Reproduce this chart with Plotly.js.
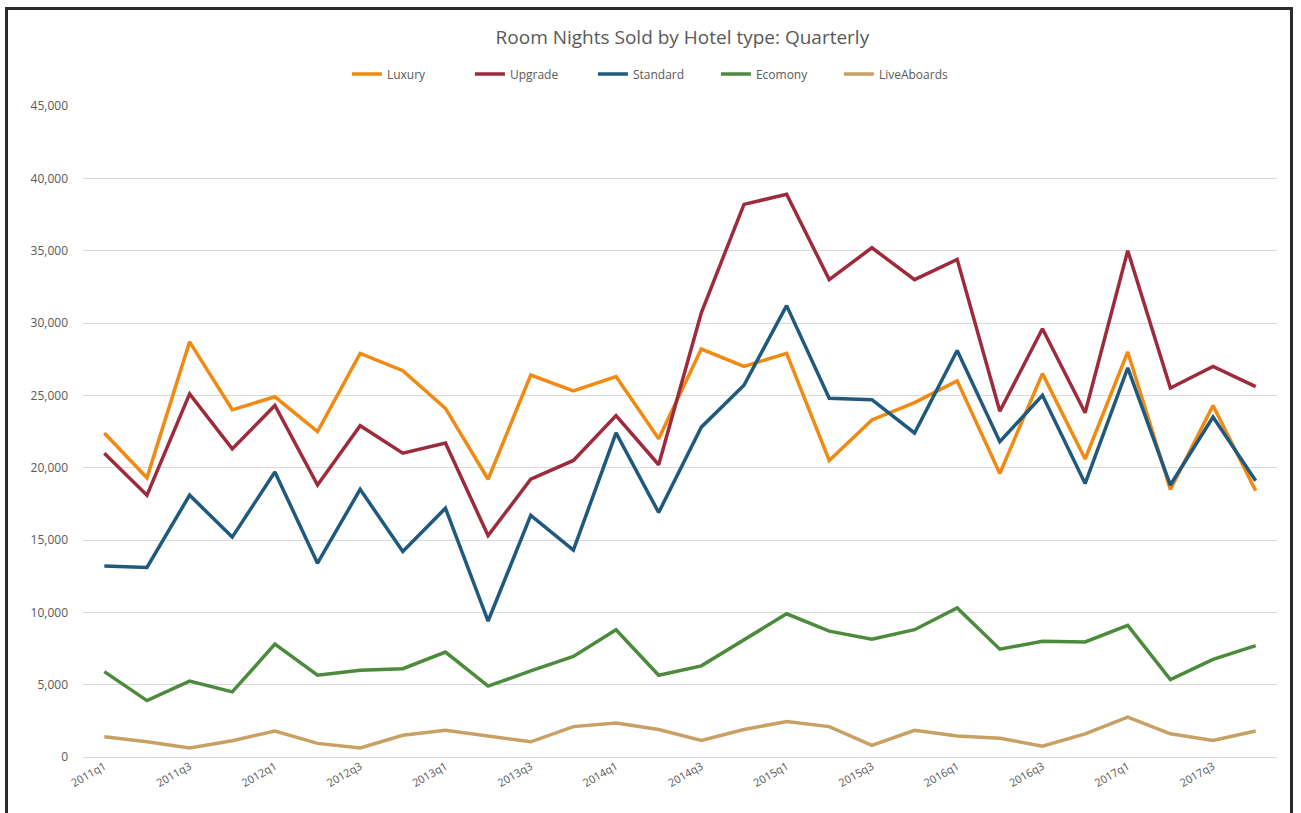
<!DOCTYPE html>
<html>
<head>
<meta charset="utf-8">
<script src="https://cdn.plot.ly/plotly-3.0.1.min.js"></script>
<style>
  html, body { margin: 0; padding: 0; background: #ffffff; overflow: hidden; }
  #chart { position: absolute; left: 0; top: 0; width: 1301px; height: 813px; }
  #frame { position: absolute; left: 5px; top: 7px; width: 1288px; height: 830px;
           border: 3px solid #2b2b2b; box-sizing: border-box; pointer-events: none; }
</style>
</head>
<body>
<div id="chart"></div>
<div id="frame"></div>
<script>
const quarters = [
  "2011q1","2011q2","2011q3","2011q4",
  "2012q1","2012q2","2012q3","2012q4",
  "2013q1","2013q2","2013q3","2013q4",
  "2014q1","2014q2","2014q3","2014q4",
  "2015q1","2015q2","2015q3","2015q4",
  "2016q1","2016q2","2016q3","2016q4",
  "2017q1","2017q2","2017q3","2017q4"
];
const tickLabels = ["2011q1","2011q3","2012q1","2012q3","2013q1","2013q3","2014q1",
                    "2014q3","2015q1","2015q3","2016q1","2016q3","2017q1","2017q3"];

const luxury = [22400,19300,28700,24000,24900,22500,27900,26700,24100,19200,26400,25300,
                26300,22000,28200,27000,27900,20500,23300,24500,26000,19600,26500,20600,
                28000,18500,24300,18400];
const upgrade = [21000,18100,25100,21300,24300,18800,22900,21000,21700,15300,19200,20500,
                 23600,20200,30700,38200,38900,33000,35200,33000,34400,23900,29600,23800,
                 35000,25500,27000,25600];
const standard = [13200,13100,18100,15200,19700,13400,18500,14200,17200,9400,16700,14300,
                  22400,16900,22800,25700,31200,24800,24700,22400,28100,21800,25000,18900,
                  26900,18800,23500,19100];
const economy = [5900,3900,5250,4500,7800,5650,6000,6100,7250,4900,5950,6950,
                 8800,5650,6300,8100,9900,8700,8150,8800,10300,7450,8000,7950,
                 9100,5350,6750,7700];
const liveAboards = [1400,1050,620,1120,1800,940,620,1500,1850,1420,1050,2100,
                     2350,1900,1150,1900,2450,2100,800,1850,1450,1300,750,1600,
                     2750,1600,1150,1800];

const seriesNames = ["Luxury","Upgrade","Standard","Ecomony","LiveAboards"];
const seriesData = [luxury, upgrade, standard, economy, liveAboards];
const seriesColors = ["#F08A12","#9E2B3C","#1F5A7E","#4C8A3C","#C9A063"];

const traces = seriesNames.map((name, i) => ({
  type: "scatter",
  mode: "lines",
  name: name,
  x: quarters,
  y: seriesData[i],
  line: { color: seriesColors[i], width: 3.5 },
  hoverinfo: "x+y+name"
}));

const font = "'Open Sans', 'Noto Sans', sans-serif";

const layout = {
  width: 1301,
  height: 813,
  paper_bgcolor: "#ffffff",
  plot_bgcolor: "#ffffff",
  margin: { l: 83, r: 24, t: 106, b: 56, pad: 0 },
  font: { family: font, color: "#595959", size: 12 },
  title: {
    text: "Room Nights Sold by Hotel type: Quarterly",
    font: { family: font, size: 19, color: "#595959" },
    x: 0.502, xref: "paper", xanchor: "center",
    y: 1 - 37 / 813, yref: "container", yanchor: "middle"
  },
  showlegend: true,
  legend: {
    orientation: "h",
    x: 0.503, xref: "container", xanchor: "center",
    y: 1 - 74 / 813, yref: "container", yanchor: "middle",
    font: { family: font, size: 12, color: "#595959" },
    itemwidth: 30,
    entrywidth: 78,
    entrywidthmode: "pixels",
    traceorder: "normal",
    bgcolor: "rgba(0,0,0,0)"
  },
  xaxis: {
    type: "category",
    categoryorder: "array",
    categoryarray: quarters,
    range: [-0.5, 27.5],
    tickmode: "array",
    tickvals: tickLabels,
    ticktext: tickLabels,
    tickangle: -30,
    tickfont: { family: font, size: 11, color: "#595959" },
    showgrid: false,
    showline: false,
    zeroline: false,
    ticks: "",
    fixedrange: true
  },
  yaxis: {
    range: [0, 45000],
    tick0: 0,
    dtick: 5000,
    tickformat: ",d",
    tickfont: { family: font, size: 12, color: "#595959" },
    showgrid: true,
    gridcolor: "#d9d9d9",
    gridwidth: 1,
    zeroline: true,
    zerolinecolor: "#d9d9d9",
    zerolinewidth: 1,
    showline: false,
    ticks: "",
    ticklabelstandoff: 14,
    fixedrange: true
  }
};

Plotly.newPlot("chart", traces, layout, { displayModeBar: false, staticPlot: false });
</script>
</body>
</html>
